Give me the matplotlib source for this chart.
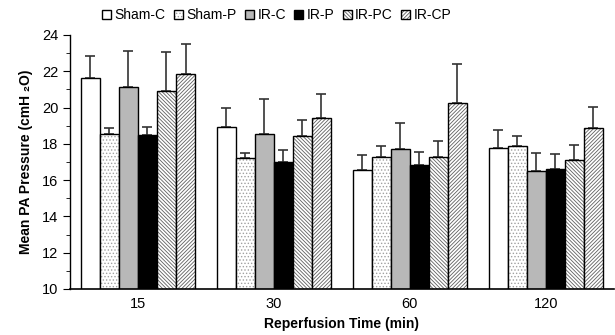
import numpy as np
import matplotlib
matplotlib.use("Agg")
import matplotlib.pyplot as plt
from matplotlib.ticker import MultipleLocator

plt.rcParams["font.family"] = ["Liberation Sans", "DejaVu Sans"]
plt.rcParams["hatch.linewidth"] = 0.6

# ── Data ─────────────────────────────────────────────────────────────
times = ["15", "30", "60", "120"]
groups = ["Sham-C", "Sham-P", "IR-C", "IR-P", "IR-PC", "IR-CP"]

sham_c = [21.65, 18.95, 16.58, 17.76]
sham_p = [18.53, 17.20, 17.28, 17.87]
ir_c = [21.14, 18.54, 17.72, 16.52]
ir_p = [18.49, 16.98, 16.86, 16.63]
ir_pc = [20.91, 18.43, 17.28, 17.09]
ir_cp = [21.87, 19.44, 20.24, 18.88]

sham_c_err = [1.19, 1.01, 0.79, 1.02]
sham_p_err = [0.34, 0.28, 0.59, 0.56]
ir_c_err = [1.96, 1.93, 1.43, 0.96]
ir_p_err = [0.44, 0.67, 0.67, 0.79]
ir_pc_err = [2.14, 0.87, 0.88, 0.85]
ir_cp_err = [1.63, 1.31, 2.15, 1.14]

means = [sham_c, sham_p, ir_c, ir_p, ir_pc, ir_cp]
errors = [sham_c_err, sham_p_err, ir_c_err, ir_p_err, ir_pc_err, ir_cp_err]

# ── Styles ───────────────────────────────────────────────────────────
faces = ["white", "white", "#b8b8b8", "black", "white", "white"]
hatches = [None, ".....", None, None, "\\" * 9, "/" * 9]
hatch_cols = ["black", "#a0a0a0", "black", "black", "#606060", "#606060"]

fig = plt.figure(figsize=(6.15, 3.35), dpi=100)
ax = fig.add_axes([70 / 615, 46 / 335, 543.6 / 615, 254 / 335])

x = np.arange(len(times))
width = 0.14
handles = []
for i, name in enumerate(groups):
    pos = x + (i - 2.5) * width
    bars = ax.bar(pos, means[i], width, bottom=0, color=faces[i],
                  edgecolor="black", linewidth=1.0, label=name, zorder=2)
    if hatches[i]:
        for b in bars:
            b.set_hatch(hatches[i])
            b._hatch_color = matplotlib.colors.to_rgba(hatch_cols[i])
    ax.errorbar(pos, means[i], yerr=[np.zeros(len(times)), errors[i]],
                fmt="none", ecolor="#333333", elinewidth=1.2, capsize=3.5,
                capthick=1.2, zorder=1)
    handles.append(bars)

ax.set_ylim(10, 24)
ax.set_xlim(-0.5, 3.5)
ax.yaxis.set_major_locator(MultipleLocator(2))
ax.yaxis.set_minor_locator(MultipleLocator(1))
ax.set_xticks(x)
ax.set_xticklabels(times)
ax.tick_params(axis="x", length=0, labelsize=10.5, pad=6)
ax.tick_params(axis="y", which="major", length=5, labelsize=10.5, direction="out")
ax.tick_params(axis="y", which="minor", length=3, direction="out")
for side in ["top", "right"]:
    ax.spines[side].set_visible(False)
ax.spines["left"].set_linewidth(1.0)
ax.spines["bottom"].set_linewidth(1.2)

ax.set_ylabel("Mean PA Pressure (cmH \u2082O)", fontsize=10, fontweight="bold", labelpad=6)
ax.set_xlabel("Reperfusion Time (min)", fontsize=10, fontweight="bold", labelpad=4)

fig.legend(handles=handles, labels=groups, loc="center", ncol=6,
           bbox_to_anchor=(0.45, 0.955), frameon=False, fontsize=10,
           handlelength=0.65, handleheight=0.65, handletextpad=0.25,
           columnspacing=0.6)

fig.savefig("out.png", dpi=100)
